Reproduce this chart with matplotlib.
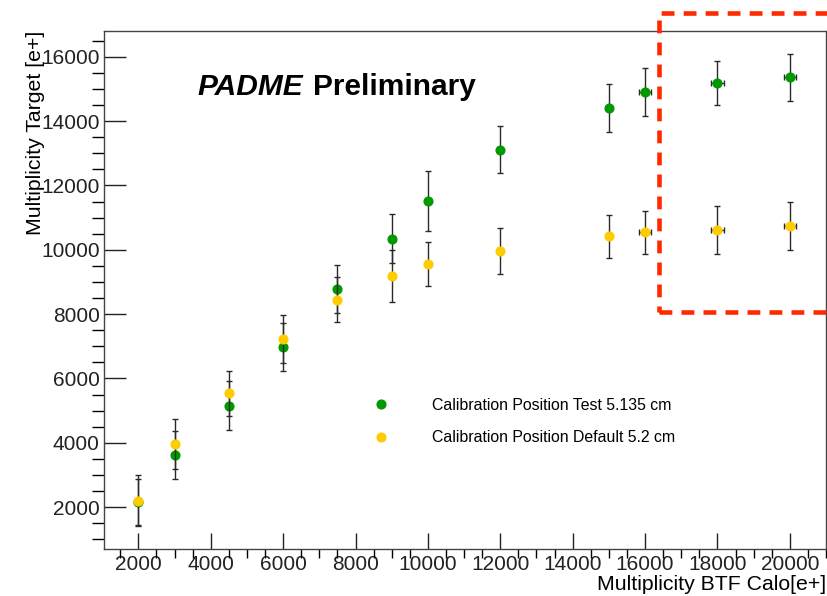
import numpy as np
import matplotlib
matplotlib.use("Agg")
import matplotlib.pyplot as plt
from matplotlib.lines import Line2D
from matplotlib.patches import Rectangle
from matplotlib.ticker import MultipleLocator

plt.rcParams['font.family'] = ['Liberation Sans', 'DejaVu Sans']

# data
x_calo = [2000, 3000, 4500, 6000, 7500, 9000, 10000, 12000, 15000, 16000, 18000, 20000]
x_err = [0, 0, 0, 0, 0, 0, 0, 0, 0, 160, 170, 170]

y_test = [2165, 3615, 5157, 6980, 8790, 10346, 11510, 13115, 14403, 14900, 15193, 15369]
err_test = [720, 750, 755, 757, 750, 771, 932, 740, 755, 741, 690, 730]

y_default = [2205, 3967, 5542, 7229, 8450, 9196, 9550, 9964, 10421, 10538, 10611, 10740]
err_default = [800, 777, 705, 757, 704, 808, 680, 721, 675, 670, 736, 738]

label_test = "Calibration Position Test 5.135 cm"
label_default = "Calibration Position Default 5.2 cm"

green = "#009a00"
yellow = "#ffcc00"

fig = plt.figure(figsize=(8.27, 5.96), dpi=100)
ax = fig.add_axes([104 / 827, 1 - 549 / 596, 722 / 827, 518 / 596])

ax.errorbar(x_calo, y_test, yerr=err_test, xerr=x_err, fmt='o', color=green,
            ms=6.3, ecolor='#2a2a2a', elinewidth=1, capsize=2.2, capthick=1, zorder=3)
ax.errorbar(x_calo, y_default, yerr=err_default, xerr=x_err, fmt='o', color=yellow,
            ms=6.3, ecolor='#2a2a2a', elinewidth=1, capsize=2.2, capthick=1, zorder=4)

ax.set_xlim(1050, 21000)
ax.set_ylim(700, 16800)

ax.xaxis.set_major_locator(MultipleLocator(2000))
ax.xaxis.set_minor_locator(MultipleLocator(500))
ax.yaxis.set_major_locator(MultipleLocator(2000))
ax.yaxis.set_minor_locator(MultipleLocator(500))
ax.tick_params(axis='both', direction='in', labelsize=15, colors='#222222')
ax.tick_params(axis='y', which='major', length=16, width=1, pad=3)
ax.tick_params(axis='y', which='minor', length=8.5, width=1)
ax.tick_params(axis='x', which='major', length=11.5, width=1, pad=4)
ax.tick_params(axis='x', which='minor', length=6.5, width=1)
for s in ax.spines.values():
    s.set_color('#444444')
    s.set_linewidth(1)

ax.set_xlabel("Multiplicity BTF Calo[e+]", fontsize=15.3, loc='right', labelpad=1)
ax.set_ylabel("Multiplicity Target [e+]", fontsize=15.3, loc='top', labelpad=-3)

fig.text(197 / 827, 1 - 95 / 596, "PADME", fontsize=21.5, fontweight='bold',
         fontstyle='italic', va='baseline')
fig.text(313 / 827, 1 - 95 / 596, "Preliminary", fontsize=21.5, fontweight='bold',
         va='baseline')

handles = [Line2D([], [], ls='none', marker='o', ms=6.3, color=green),
           Line2D([], [], ls='none', marker='o', ms=6.3, color=yellow)]
ax.legend(handles, [label_test, label_default], loc='upper left', frameon=False,
          fontsize=11.4, borderpad=0, handlelength=1, handletextpad=2.73,
          labelspacing=1.1, bbox_to_anchor=(365 / 827, 1 - 390 / 596),
          bbox_transform=fig.transFigure)

# red dashed highlight box
fig.patches.append(Rectangle((658.7 / 827, 1 - 311.7 / 596), 0.3, (311.7 - 13.3) / 596,
                             transform=fig.transFigure, fill=False, ec='#ff2a00',
                             lw=3.3, ls=(0, (2.8, 2.0)), clip_on=False, zorder=10))

fig.savefig("out.png", dpi=100)
